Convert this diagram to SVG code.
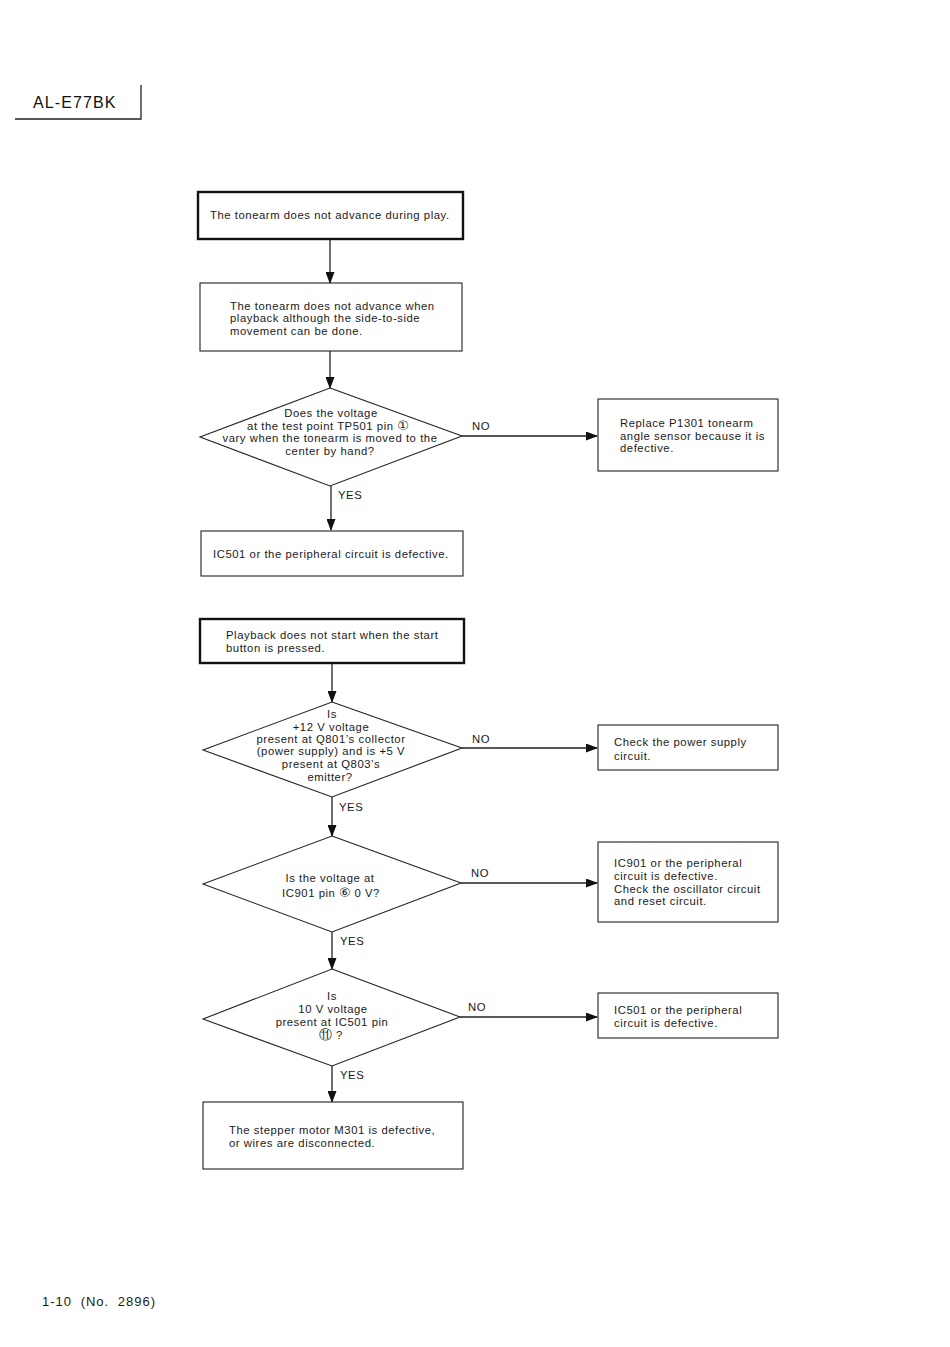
<svg xmlns="http://www.w3.org/2000/svg" width="950" height="1347" viewBox="0 0 950 1347">
<style>
.t{font-family:"Liberation Sans",Arial,sans-serif;font-size:11.3px;letter-spacing:0.55px;fill:#1a1a1a}
.c{text-anchor:middle}
.k{font-family:"DejaVu Sans",sans-serif;font-size:13px;letter-spacing:0}
.b{fill:#fff;stroke:#222;stroke-width:1.1}
.bt{fill:#fff;stroke:#111;stroke-width:2.4}
.d{fill:#fff;stroke:#222;stroke-width:1.1}
.l{stroke:#222;stroke-width:1.3;fill:none}
.h{font-family:"Liberation Sans",Arial,sans-serif;font-size:16px;letter-spacing:1.1px;fill:#111}
</style>
<defs>
<marker id="a" markerWidth="12" markerHeight="9" refX="11" refY="4.5" orient="auto" markerUnits="userSpaceOnUse">
<path d="M0,0 L12,4.5 L0,9 Z" fill="#111"/>
</marker>
</defs>
<rect width="950" height="1347" fill="#fff"/>
<g id="header">
<text class="h" x="33" y="108">AL-E77BK</text>
<path class="l" d="M15,119 H141 V85"/>
</g>
<g id="connectors">
<line class="l" x1="330" y1="239" x2="330" y2="283" marker-end="url(#a)"/>
<line class="l" x1="330" y1="351" x2="330" y2="388" marker-end="url(#a)"/>
<line class="l" x1="462" y1="436" x2="597" y2="436" marker-end="url(#a)"/>
<line class="l" x1="331" y1="486" x2="331" y2="530" marker-end="url(#a)"/>
<line class="l" x1="332" y1="663" x2="332" y2="702" marker-end="url(#a)"/>
<line class="l" x1="462" y1="748" x2="597" y2="748" marker-end="url(#a)"/>
<line class="l" x1="332" y1="797" x2="332" y2="836" marker-end="url(#a)"/>
<line class="l" x1="461" y1="883" x2="597" y2="883" marker-end="url(#a)"/>
<line class="l" x1="332" y1="932" x2="332" y2="969" marker-end="url(#a)"/>
<line class="l" x1="460" y1="1017" x2="597" y2="1017" marker-end="url(#a)"/>
<line class="l" x1="332" y1="1066" x2="332" y2="1102" marker-end="url(#a)"/>
<text class="t" x="472" y="430">NO</text>
<text class="t" x="338" y="499">YES</text>
<text class="t" x="472" y="743">NO</text>
<text class="t" x="339" y="811">YES</text>
<text class="t" x="471" y="877">NO</text>
<text class="t" x="340" y="945">YES</text>
<text class="t" x="468" y="1011">NO</text>
<text class="t" x="340" y="1079">YES</text>
</g>
<g id="n1">
<rect class="bt" x="198" y="192" width="265" height="47"/>
<text class="t" x="210" y="219">The tonearm does not advance during play.</text>
</g>
<g id="n2">
<rect class="b" x="200" y="283" width="262" height="68"/>
<text class="t" x="230" y="310">The tonearm does not advance when</text>
<text class="t" x="230" y="322">playback although the side-to-side</text>
<text class="t" x="230" y="335">movement can be done.</text>
</g>
<g id="d1">
<polygon class="d" points="330,388 462,436 330,486 200,437"/>
<text class="t c" x="331" y="417">Does the voltage</text>
<text class="t c" x="328" y="430">at the test point TP501 pin <tspan class="k">①</tspan></text>
<text class="t c" x="330" y="442">vary when the tonearm is moved to the</text>
<text class="t c" x="330" y="455">center by hand?</text>
</g>
<g id="r1">
<rect class="b" x="598" y="399" width="180" height="72"/>
<text class="t" x="620" y="427">Replace P1301 tonearm</text>
<text class="t" x="620" y="440">angle sensor because it is</text>
<text class="t" x="620" y="452">defective.</text>
</g>
<g id="n3">
<rect class="b" x="201" y="531" width="262" height="45"/>
<text class="t" x="213" y="558">IC501 or the peripheral circuit is defective.</text>
</g>
<g id="n4">
<rect class="bt" x="200" y="619" width="264" height="44"/>
<text class="t" x="226" y="639">Playback does not start when the start</text>
<text class="t" x="226" y="652">button is pressed.</text>
</g>
<g id="d2">
<polygon class="d" points="332,702 462,748 332,797 203,750"/>
<text class="t c" x="332" y="718">Is</text>
<text class="t c" x="331" y="731">+12 V voltage</text>
<text class="t c" x="331" y="743">present at Q801’s collector</text>
<text class="t c" x="331" y="755">(power supply) and is +5 V</text>
<text class="t c" x="331" y="768">present at Q803’s</text>
<text class="t c" x="330" y="781">emitter?</text>
</g>
<g id="r2">
<rect class="b" x="598" y="725" width="180" height="45"/>
<text class="t" x="614" y="746">Check the power supply</text>
<text class="t" x="614" y="760">circuit.</text>
</g>
<g id="d3">
<polygon class="d" points="332,836 461,883 332,932 203,884"/>
<text class="t c" x="330" y="882">Is the voltage at</text>
<text class="t c" x="331" y="897">IC901 pin <tspan class="k">⑥</tspan> 0 V?</text>
</g>
<g id="r3">
<rect class="b" x="598" y="842" width="180" height="80"/>
<text class="t" x="614" y="867">IC901 or the peripheral</text>
<text class="t" x="614" y="880">circuit is defective.</text>
<text class="t" x="614" y="893">Check the oscillator circuit</text>
<text class="t" x="614" y="905">and reset circuit.</text>
</g>
<g id="d4">
<polygon class="d" points="332,969 460,1017 332,1066 203,1019"/>
<text class="t c" x="332" y="1000">Is</text>
<text class="t c" x="333" y="1013">10 V voltage</text>
<text class="t c" x="332" y="1026">present at IC501 pin</text>
<text class="t c" x="331" y="1039"><tspan class="k">⑪</tspan> ?</text>
</g>
<g id="r4">
<rect class="b" x="598" y="993" width="180" height="45"/>
<text class="t" x="614" y="1014">IC501 or the peripheral</text>
<text class="t" x="614" y="1027">circuit is defective.</text>
</g>
<g id="n5">
<rect class="b" x="203" y="1102" width="260" height="67"/>
<text class="t" x="229" y="1134">The stepper motor M301 is defective,</text>
<text class="t" x="229" y="1147">or wires are disconnected.</text>
</g>
<g id="footer">
<text class="t" x="42" y="1306" style="font-size:13px;letter-spacing:1px;word-spacing:4px">1-10 (No. 2896)</text>
</g>
</svg>
